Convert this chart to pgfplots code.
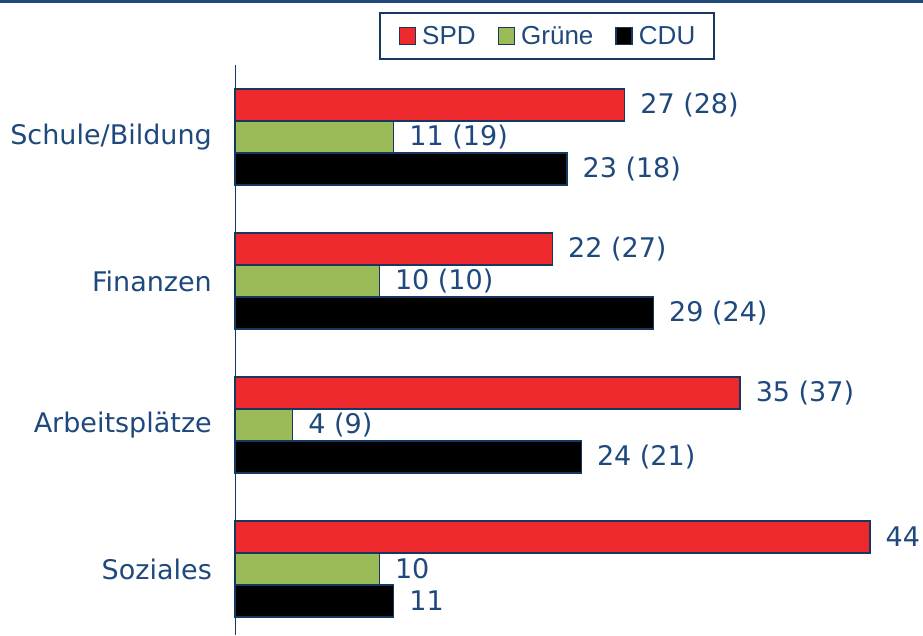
\documentclass[border=0pt]{standalone}
\usepackage{fontspec}
\setmainfont{DejaVu Sans}
\newfontfamily\legfont{Liberation Sans}
\usepackage{pgfplots}
\pgfplotsset{compat=1.18}
\usepackage{pgfplotstable}
\definecolor{txtblue}{RGB}{31,73,125}
\definecolor{navy}{RGB}{23,55,94}
\definecolor{spdred}{RGB}{237,41,46}
\definecolor{gruen}{RGB}{155,187,89}

\pgfplotstableread[col sep=comma]{
y,val,lab
0,27,27 (28)
1,22,22 (27)
2,35,35 (37)
3,44,44
}\spd
\pgfplotstableread[col sep=comma]{
y,val,lab
0,11,11 (19)
1,10,10 (10)
2,4,4 (9)
3,10,10
}\gruene
\pgfplotstableread[col sep=comma]{
y,val,lab
0,23,23 (18)
1,29,29 (24)
2,24,24 (21)
3,11,11
}\cdu

\begin{document}
\begin{tikzpicture}
\useasboundingbox (0pt,0pt) rectangle (923pt,635pt);
\draw[txtblue, line width=3pt] (0pt,633.5pt) -- (923pt,633.5pt);
\begin{axis}[
  at={(235pt,0pt)}, anchor=south west,
  scale only axis,
  width=688pt, height=570pt,
  xmin=0, xmax=47.68,
  ymin=-0.5, ymax=3.458,
  y dir=reverse,
  xbar,
  bar width=32pt,
  axis x line=none,
  axis y line*=left,
  y axis line style={navy, line width=1pt},
  ytick={0,1,2,3},
  yticklabels={Schule/Bildung,Finanzen,Arbeitsplätze,Soziales},
  major tick length=0pt,
  yticklabel style={font=\fontsize{27pt}{32pt}\selectfont, text=txtblue, inner sep=0pt, xshift=-23pt},
  clip=false,
  nodes near coords,
  point meta=explicit symbolic,
  every node near coord/.append style={font=\fontsize{27pt}{32pt}\selectfont, text=txtblue, anchor=west, inner sep=0pt, xshift=15pt},
  legend columns=3,
  legend image code/.code={\draw[#1, line width=1.5pt] (0pt,-8.5pt) rectangle (16pt,8.5pt);},
  legend style={at={(0.4535,1.0509)}, anchor=center, draw=navy, line width=2pt,
    font=\legfont\fontsize{26pt}{30pt}\selectfont, text=txtblue,
    nodes={inner sep=0pt},
    inner xsep=19pt, inner ysep=13pt,
    /tikz/every odd column/.append style={column sep=6pt},
    /tikz/every even column/.append style={column sep=22pt}},
  legend cell align=left,
]
\addplot[fill=spdred, draw=navy, line width=1.5pt, bar shift=32pt] table[x=val,y=y,meta=lab]{\spd};
\addlegendentry{SPD}
\addplot[fill=gruen, draw=navy, line width=1.5pt, bar shift=0pt] table[x=val,y=y,meta=lab]{\gruene};
\addlegendentry{Grüne}
\addplot[fill=black, draw=navy, line width=1.5pt, bar shift=-32pt] table[x=val,y=y,meta=lab]{\cdu};
\addlegendentry{CDU}
\end{axis}
\end{tikzpicture}
\end{document}
